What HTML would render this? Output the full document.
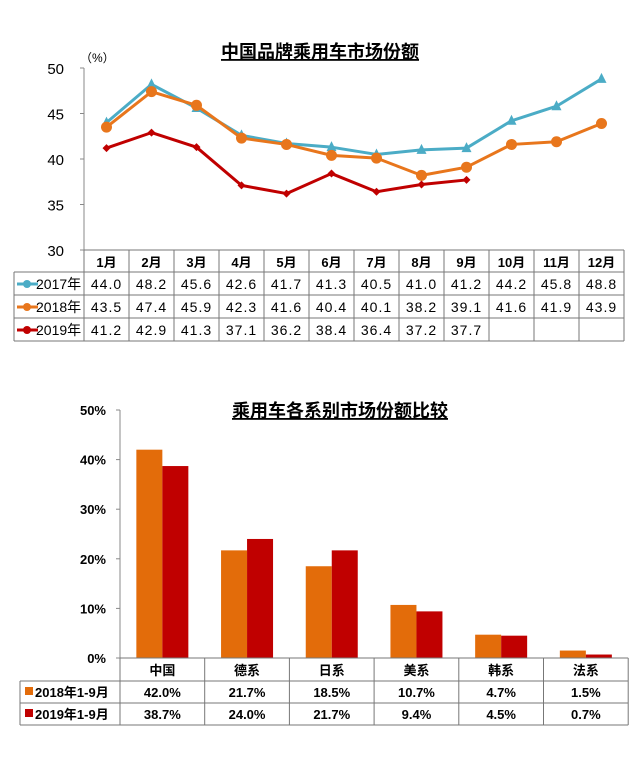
<!DOCTYPE html>
<html><head><meta charset="utf-8"><style>
body{margin:0;background:#fff;width:639px;height:756px;overflow:hidden}
text{font-family:"Liberation Sans","Noto Sans CJK SC",sans-serif}
</style></head><body>
<svg width="639" height="756">
<g id="c1"></g>
<g id="c2"></g>
</svg>
<script>
const months=["1月","2月","3月","4月","5月","6月","7月","8月","9月","10月","11月","12月"];
const s2017=[44.0,48.2,45.6,42.6,41.7,41.3,40.5,41.0,41.2,44.2,45.8,48.8];
const s2018=[43.5,47.4,45.9,42.3,41.6,40.4,40.1,38.2,39.1,41.6,41.9,43.9];
const s2019=[41.2,42.9,41.3,37.1,36.2,38.4,36.4,37.2,37.7];
const yTicks1=[30,35,40,45,50];
const cats=["中国","德系","日系","美系","韩系","法系"];
const b2018=[42.0,21.7,18.5,10.7,4.7,1.5];
const b2019=[38.7,24.0,21.7,9.4,4.5,0.7];
const yTicks2=[0,10,20,30,40,50];

const NS="http://www.w3.org/2000/svg";
function mk(p,t,a,txt){const e=document.createElementNS(NS,t);for(const k in a)e.setAttribute(k,a[k]);if(txt!=null)e.textContent=txt;p.appendChild(e);return e;}

// chart 1
const c1=document.getElementById('c1');
const X0=84,CW=45,y1=v=>250-(v-30)*(182/20),x1=i=>X0+CW*i+CW/2;
let t=mk(c1,'text',{x:320,y:58,'text-anchor':'middle','font-size':18,'font-weight':'bold','text-decoration':'underline'},'中国品牌乘用车市场份额');

t=mk(c1,'text',{x:80,y:62,'font-size':12},'（%）');

mk(c1,'line',{x1:X0,y1:68,x2:X0,y2:250,stroke:'#888'});
yTicks1.forEach(v=>{mk(c1,'line',{x1:X0-4,y1:y1(v),x2:X0,y2:y1(v),stroke:'#888'});
 t=mk(c1,'text',{x:64,y:y1(v)+6,'text-anchor':'end','font-size':15},v);
 });
// table
const rows=[["2017年",s2017,'#4bacc6'],["2018年",s2018,'#e8761c'],["2019年",s2019,'#c00000']];
const TL=14,TR=X0+CW*12,RT=[250,272,295,318,341];
mk(c1,'line',{x1:X0,y1:250,x2:TR,y2:250,stroke:'#777'});
for(let r=1;r<5;r++)mk(c1,'line',{x1:TL,y1:RT[r],x2:TR,y2:RT[r],stroke:'#777'});
mk(c1,'line',{x1:TL,y1:272,x2:TL,y2:341,stroke:'#777'});
for(let i=0;i<=12;i++)mk(c1,'line',{x1:X0+CW*i,y1:250,x2:X0+CW*i,y2:341,stroke:'#777'});
months.forEach((m,i)=>{t=mk(c1,'text',{x:x1(i),y:267,'text-anchor':'middle','font-size':13,'font-weight':'bold'},m);
 });
rows.forEach((r,ri)=>{const cy=RT[ri+1]+17;
 mk(c1,'line',{x1:17,y1:cy-5,x2:38,y2:cy-5,stroke:r[2],'stroke-width':3});
 mk(c1,'circle',{cx:27,cy:cy-5,r:4,fill:r[2]});
 t=mk(c1,'text',{x:36,y:cy,'font-size':14},r[0]);
 
 r[1].forEach((v,i)=>{t=mk(c1,'text',{x:x1(i),y:cy,'text-anchor':'middle','font-size':14,'letter-spacing':'1'},v.toFixed(1));
  });
 const p=mk(c1,'polyline',{points:r[1].map((v,i)=>x1(i)+','+y1(v)).join(' '),fill:'none',stroke:r[2],'stroke-width':3,'stroke-linejoin':'round'});
 
 r[1].forEach((v,i)=>{let m;
  if(ri===0)m=mk(c1,'polygon',{points:`${x1(i)},${y1(v)-6} ${x1(i)+5},${y1(v)+4} ${x1(i)-5},${y1(v)+4}`,fill:r[2]});
  else if(ri===1)m=mk(c1,'circle',{cx:x1(i),cy:y1(v),r:5.5,fill:r[2]});
  else m=mk(c1,'polygon',{points:`${x1(i)},${y1(v)-4} ${x1(i)+4},${y1(v)} ${x1(i)},${y1(v)+4} ${x1(i)-4},${y1(v)}`,fill:r[2]});
  });
});

// chart 2
const c2=document.getElementById('c2');
const BX=120,BW=84.7,y2=v=>658-v*(248/50),bx=i=>BX+BW*i;
t=mk(c2,'text',{x:340,y:417,'text-anchor':'middle','font-size':18,'font-weight':'bold','text-decoration':'underline'},'乘用车各系别市场份额比较');

mk(c2,'line',{x1:BX,y1:410,x2:BX,y2:658,stroke:'#888'});
yTicks2.forEach(v=>{mk(c2,'line',{x1:BX-4,y1:y2(v),x2:BX,y2:y2(v),stroke:'#888'});
 t=mk(c2,'text',{x:106,y:y2(v)+5,'text-anchor':'end','font-size':13,'font-weight':'bold'},v+'%');
 });
cats.forEach((c,i)=>{const cx=bx(i)+BW/2;
 let b=mk(c2,'rect',{x:cx-26,y:y2(b2018[i]),width:26,height:658-y2(b2018[i]),fill:'#e36c0a'});
 
 b=mk(c2,'rect',{x:cx,y:y2(b2019[i]),width:26,height:658-y2(b2019[i]),fill:'#c00000'});
 
});
const BR=BX+BW*6,RT2=[658,681,703,725],BL=20;
mk(c2,'line',{x1:BX,y1:658,x2:BR,y2:658,stroke:'#777'});
for(let r=1;r<4;r++)mk(c2,'line',{x1:BL,y1:RT2[r],x2:BR,y2:RT2[r],stroke:'#777'});
mk(c2,'line',{x1:BL,y1:681,x2:BL,y2:725,stroke:'#777'});
for(let i=0;i<=6;i++)mk(c2,'line',{x1:bx(i),y1:658,x2:bx(i),y2:725,stroke:'#777'});
cats.forEach((c,i)=>{t=mk(c2,'text',{x:bx(i)+BW/2,y:675,'text-anchor':'middle','font-size':13,'font-weight':'bold'},c);
 });
[["2018年1-9月",b2018,'#e36c0a'],["2019年1-9月",b2019,'#c00000']].forEach((r,ri)=>{const cy=RT2[ri+1]+16;
 mk(c2,'rect',{x:25,y:cy-10,width:8,height:8,fill:r[2]});
 t=mk(c2,'text',{x:35,y:cy,'font-size':13,'font-weight':'bold'},r[0]);
 
 r[1].forEach((v,i)=>{t=mk(c2,'text',{x:bx(i)+BW/2,y:cy,'text-anchor':'middle','font-size':13,'font-weight':'bold'},v.toFixed(1)+'%');
  });
});
</script>
</body></html>
